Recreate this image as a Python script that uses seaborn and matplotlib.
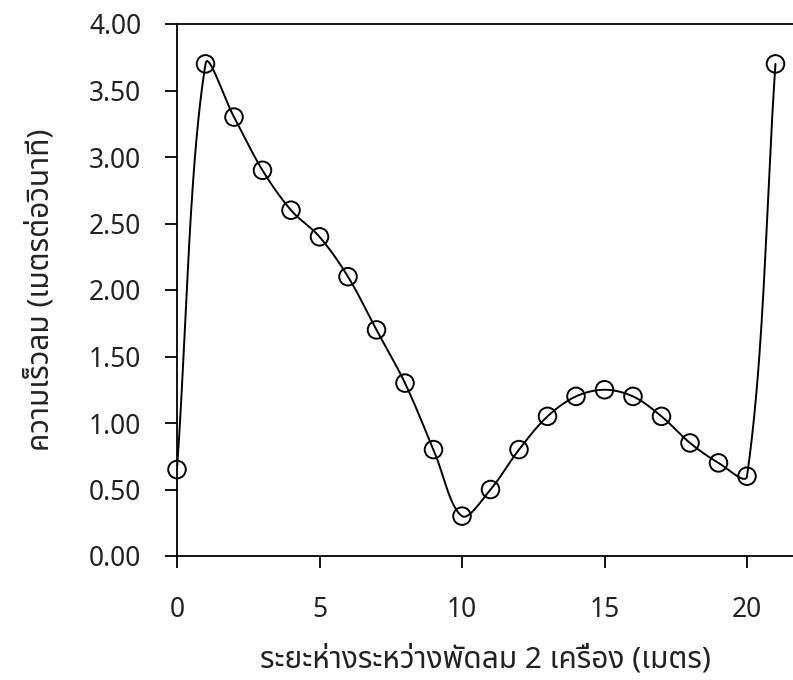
import numpy as np
import pandas as pd
import matplotlib
matplotlib.use("Agg")
import matplotlib.pyplot as plt
from matplotlib import font_manager
import seaborn as sns

# Data
distance = [0, 1, 2, 3, 4, 5, 6, 7, 8, 9, 10, 11, 12, 13, 14, 15, 16, 17, 18, 19, 20, 21]
speed = [0.65, 3.70, 3.30, 2.90, 2.60, 2.40, 2.10, 1.70, 1.30, 0.80, 0.30, 0.50,
         0.80, 1.05, 1.20, 1.25, 1.20, 1.05, 0.85, 0.70, 0.60, 3.70]
xticks = [0, 5, 10, 15, 20]
yticks = [0.0, 0.5, 1.0, 1.5, 2.0, 2.5, 3.0, 3.5, 4.0]
xlabel = "ระยะห่างระหว่างพัดลม 2 เครื่อง (เมตร)"
ylabel = "ความเร็วลม (เมตรต่อวินาที)"

sns.set_theme(style="white")

# find a font with Thai glyphs
thai_font = None
for pref in ["Noto Sans Thai", "Noto Sans Thai UI", "Tahoma", "Loma", "Garuda", "Norasi",
             "Sarabun", "TH Sarabun New", "Kinnari", "Waree", "Umpush", "Laksaman"]:
    try:
        font_manager.findfont(pref, fallback_to_default=False)
        thai_font = pref
        break
    except Exception:
        pass
if thai_font is None:
    try:
        from matplotlib.ft2font import FT2Font
        for f in font_manager.findSystemFonts():
            try:
                ft = FT2Font(f)
                if 0x0E01 in ft.get_charmap():
                    thai_font = font_manager.FontProperties(fname=f).get_name()
                    font_manager.fontManager.addfont(f)
                    break
            except Exception:
                continue
    except Exception:
        pass

fams = ([thai_font] if thai_font else []) + ["DejaVu Sans"]
plt.rcParams["font.family"] = fams

XPX = 28.5   # display pixels per x unit
YPX = 133.0  # display pixels per y unit

# Excel-like smoothing: Bezier with chord-length-scaled tangents (in display space)
def smooth(xs, ys, n=40):
    P = np.column_stack([np.asarray(xs, float) * XPX, np.asarray(ys, float) * YPX])
    m = len(P)
    out = []
    for i in range(m - 1):
        p1 = P[i]; p2 = P[i + 1]
        p0 = P[i - 1] if i > 0 else P[i]
        p3 = P[i + 2] if i + 2 < m else P[i + 1]
        d01 = np.linalg.norm(p1 - p0); d12 = np.linalg.norm(p2 - p1); d23 = np.linalg.norm(p3 - p2)
        c1 = p1 + (p2 - p0) * d12 / (3 * (d01 + d12))
        c2 = p2 - (p3 - p1) * d12 / (3 * (d12 + d23))
        t = np.linspace(0, 1, n, endpoint=(i == m - 2))[:, None]
        b = (1 - t) ** 3 * p1 + 3 * (1 - t) ** 2 * t * c1 + 3 * (1 - t) * t ** 2 * c2 + t ** 3 * p2
        out.append(b)
    out = np.vstack(out)
    return out[:, 0] / XPX, out[:, 1] / YPX

sx, sy = smooth(distance, speed)
curve = pd.DataFrame({"x": sx, "y": sy})
pts = pd.DataFrame({"x": distance, "y": speed})

fig = plt.figure(figsize=(7.93, 6.80), dpi=100)
ax = fig.add_axes([177 / 793, 1 - 556 / 680, 1 - 177 / 793, (556 - 24) / 680])

sns.lineplot(data=curve, x="x", y="y", sort=False, estimator=None, color="black",
             linewidth=1.4, ax=ax)
sns.scatterplot(data=pts, x="x", y="y", marker="o", s=160, facecolors="none",
                edgecolor="black", linewidth=1.4, ax=ax, zorder=3)

ax.set_xlim(0, (793 - 177) / XPX)
ax.set_ylim(0, 4.0)
ax.set_xticks(xticks)
ax.set_xticklabels([str(v) for v in xticks])
ax.set_yticks(yticks)
ax.set_yticklabels([f"{v:.2f}" for v in yticks])
ax.set_xlabel(xlabel, fontsize=21.5, labelpad=15, color="#222222")
ax.set_ylabel(ylabel, fontsize=21.5, labelpad=24, color="#222222")

for s in ["left", "bottom", "top"]:
    ax.spines[s].set_visible(True)
    ax.spines[s].set_color("black")
    ax.spines[s].set_linewidth(1.3)
ax.spines["right"].set_visible(False)
ax.tick_params(axis="both", which="major", direction="out", length=8.6, width=1.3,
               color="black", labelsize=19, labelcolor="#222222")
ax.tick_params(axis="y", pad=17)
ax.tick_params(axis="x", pad=20)
ax.xaxis.set_ticks_position("bottom")
ax.yaxis.set_ticks_position("left")
ax.tick_params(bottom=True, left=True)
ax.grid(False)
for c in ax.collections:
    c.set_clip_on(False)

fig.savefig("out.png", dpi=100)
